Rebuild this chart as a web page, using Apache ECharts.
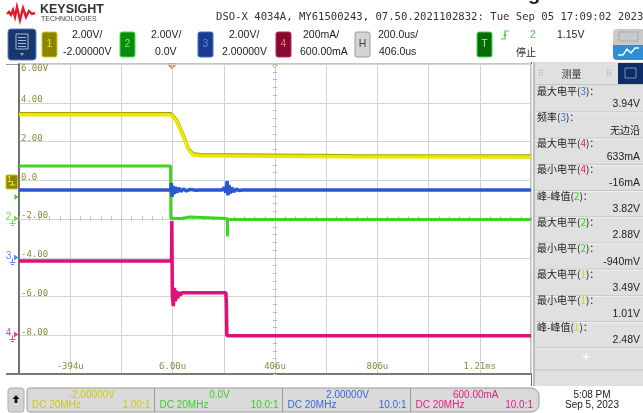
<!DOCTYPE html>
<html lang="zh">
<head>
<meta charset="UTF-8">
<title>DSO-X 4034A 截图</title>
<script src="https://cdn.jsdelivr.net/npm/echarts@6/dist/echarts.min.js"></script>
<style>
    html, body { margin: 0; padding: 0; background: #fff; }
    #scope { width: 643px; height: 413px; }
</style>
</head>
<body>
<div id="scope"></div>
<script>
    // ---------- 数据：时间 us，纵轴按通道1的屏幕电压 (V) ----------
    var timeTickDiv = [-4, -2, 0, 2, 4];
    var timeTickText = ['-394u', '6.00u', '406u', '806u', '1.21ms'];
    var voltTicks = [6, 4, 2, 0, -2, -4, -6, -8];
    var voltTickText = ['6.00V', '4.00', '2.00', '0.0', '-2.00', '-4.00', '-6.00', '-8.00'];

    // 通道1 黄
    var ch1 = [[-594, 3.38], [0, 3.38], [22, 3.04], [48, 2.26], [67, 1.58], [85, 1.32], [113, 1.27],
        [400, 1.24], [700, 1.21], [1406, 1.2]];
    // 通道2 绿
    var ch2 = [[-594, 0.74], [-2, 0.74], [-1, -1.98], [40, -1.98], [41, -1.9], [70, -1.9], [71, -1.98],
        [219, -1.98], [220, -2.9], [221, -2.03], [1406, -2.03]];
    // 通道3 蓝
    var ch3 = [[-594, -0.5], [-1, -0.5], [1, -0.15], [4, -0.85], [8, -0.3], [12, -0.7], [17, -0.35],
        [23, -0.64], [30, -0.4], [38, -0.58], [48, -0.45], [60, -0.55], [75, -0.47], [95, -0.52],
        [113, -0.5], [200, -0.5], [208, -0.38], [214, -0.64], [219, -0.05], [222, -0.78], [226, -0.25],
        [231, -0.68], [237, -0.38], [245, -0.6], [255, -0.46], [265, -0.53], [280, -0.5], [1406, -0.5]];
    // 通道4 粉 (电流)
    var ch4 = [[-594, -4.17], [2, -4.17], [3, -2.1], [5, -6.0], [9, -6.5], [13, -5.55], [17, -6.25],
        [21, -5.7], [26, -6.1], [31, -5.78], [36, -5.95], [42, -5.8], [214, -5.8], [216, -6.3],
        [218, -8.02], [1406, -8.02]];

    // 测量面板
    var measNames = ['最大电平', '频率', '最大电平', '最小电平', '峰-峰值', '最大电平', '最小电平', '最大电平', '最小电平', '峰-峰值'];
    var measChan = [3, 3, 4, 4, 2, 2, 2, 1, 1, 1];
    var measValues = ['3.94V', '无边沿', '633mA', '-16mA', '3.82V', '2.88V', '-940mV', '3.49V', '1.01V', '2.48V'];

    var chanColor = {1: '#e0d400', 2: '#44d024', 3: '#3a6ee0', 4: '#e0187e'};

    var scope = echarts.init(document.getElementById('scope'));

    function toDiv(t) { return (t - 406) / 200; }
    function pts(arr) { return arr.map(function (p) { return [toDiv(p[0]), p[1]]; }); }

    var F = '10.5px "Liberation Sans", Arial, sans-serif';
    var CJK = '10px "Noto Sans CJK SC", sans-serif';

    function txt(x, y, s, color, font, align) {
        return {
            type: 'text', x: x, y: y, silent: true,
            style: {text: s, fill: color || '#222', font: font || F,
                textAlign: align || 'left', textVerticalAlign: 'middle', align: align || 'left', verticalAlign: 'middle'}
        };
    }
    function box(x, y, w, h, fill, stroke, r) {
        return {type: 'rect', silent: true, shape: {x: x, y: y, width: w, height: h, r: r || 0},
            style: {fill: fill, stroke: stroke || null, lineWidth: 1}};
    }
    function line(x1, y1, x2, y2, color, w) {
        return {type: 'line', silent: true, shape: {x1: x1, y1: y1, x2: x2, y2: y2},
            style: {stroke: color, lineWidth: w || 1}};
    }
    function poly(points, fill, stroke) {
        return {type: 'polygon', silent: true, shape: {points: points},
            style: {fill: fill, stroke: stroke || null, lineWidth: 1}};
    }
    function pline(points, color, w) {
        return {type: 'polyline', silent: true, shape: {points: points},
            style: {stroke: color, lineWidth: w || 1, fill: null}};
    }
    function gnd(x, y, color) {
        return [line(x, y, x, y + 4, color, 1), line(x - 3, y + 4, x + 3, y + 4, color, 1), line(x - 1.5, y + 6, x + 1.5, y + 6, color, 1)];
    }

    var g = [];
    // 标志
    g.push(pline([[7, 14], [9, 12], [11, 15], [13, 10], [15, 17], [17, 7], [20, 20], [23, 8], [26, 17], [29, 11], [32, 14], [35, 13]], '#e01c2a', 2.4));
    g.push(txt(40, 10, 'KEYSIGHT', '#333', 'bold 12.5px "Liberation Sans", Arial, sans-serif'));
    g.push(txt(41, 19.5, 'TECHNOLOGIES', '#444', '7px "Liberation Sans", Arial, sans-serif'));
    g.push(txt(216, 17, 'DSO-X 4034A, MY61500243, 07.50.2021102832: Tue Sep 05 17:09:02 2023', '#333', '10.6px "DejaVu Sans Mono", monospace'));
    g.push(txt(534, -6, 'g', '#222', 'bold 20px "Liberation Sans", sans-serif', 'center'));

    // 菜单按钮
    g.push(box(8, 29, 28, 31, '#17386e', '#5b7fc0', 3));
    g.push(box(16, 34, 12, 15, null, '#a8b8d0'));
    for (var i = 0; i < 4; i++) g.push(line(18, 37.5 + i * 3, 26, 37.5 + i * 3, '#a8b8d0', 1));
    g.push(poly([[20, 53], [24, 53], [22, 56]], '#9aa8c0'));

    // 通道框
    g.push(box(42, 32, 15, 25, '#8c8400', '#d4cc10', 2), txt(49.5, 44.5, '1', '#e8e040', F, 'center'));
    g.push(txt(72, 35, '2.00V/'), txt(63, 52.5, '-2.00000V'));
    g.push(box(120, 32, 15, 25, '#0c8a0c', '#44e044', 2), txt(127.5, 44.5, '2', '#66f066', F, 'center'));
    g.push(txt(151, 35, '2.00V/'), txt(155, 52.5, '0.0V'));
    g.push(box(198, 32, 15, 25, '#1a3c8c', '#3a70e0', 2), txt(205.5, 44.5, '3', '#5a8af0', F, 'center'));
    g.push(txt(229, 35, '2.00V/'), txt(222, 52.5, '2.00000V'));
    g.push(box(276, 32, 15, 25, '#860a2c', '#d02060', 2), txt(283.5, 44.5, '4', '#f070a0', F, 'center'));
    g.push(txt(303, 35, '200mA/'), txt(300, 52.5, '600.00mA'));
    g.push(box(355, 32, 15, 25, '#d4d4d4', '#999', 2), txt(362.5, 44.5, 'H', '#444', F, 'center'));
    g.push(txt(378, 35, '200.0us/'), txt(379, 52.5, '406.0us'));
    g.push(box(477, 32, 15, 25, '#0a6a0a', '#44e044', 2), txt(484.5, 44.5, 'T', '#a0f0a0', F, 'center'));
    g.push(pline([[501, 39], [505, 39], [505, 31], [509, 31]], '#44d044', 1.2), poly([[503, 36], [507, 36], [505, 33]], '#44d044'));
    g.push(txt(530, 35, '2', '#44d044'), txt(557, 35, '1.15V'), txt(516, 52.5, '停止', '#222', CJK));

    // 右上角图标
    g.push(box(613, 29, 30, 16, '#cacaca', null, [4, 0, 0, 0]), box(613, 45, 30, 15, '#2e8fd6', null, [0, 0, 0, 4]));
    g.push({type: 'rect', silent: true, shape: {x: 619, y: 32, width: 19, height: 9},
        style: {fill: null, stroke: '#8a8a8a', lineWidth: 1, lineDash: [1, 1]}});
    g.push(pline([[618, 55], [623, 55], [627, 49], [631, 53], [635, 48], [639, 48]], '#fff', 1.4));

    // 屏幕边框延伸
    g.push(line(6, 64.5, 19, 64.5, '#9a9a9a', 1), line(6, 374, 19, 374, '#7a7a7a', 2));

    // 左侧通道标记
    g.push(box(6, 175, 11.5, 14, '#8c8400', '#d4cc10', 1), txt(9.5, 180, '1', '#f0e840', '9px "Liberation Sans", sans-serif', 'center'));
    g.push(poly([[17.5, 178], [19, 181], [17.5, 184]], '#d4cc10'));
    g.push(gnd(12.5, 181, '#f0e840')[0], gnd(12.5, 181, '#f0e840')[1]);
    g.push(poly([[14.5, 194], [18.5, 197], [14.5, 200]], '#44d024'));
    [[2, 218.5], [3, 257.5], [4, 334.5]].forEach(function (m) {
        var c = m[0] === 2 ? '#6ae050' : (m[0] === 3 ? '#5a8af0' : '#f0409a');
        g.push(txt(8.5, m[1] - 1, String(m[0]), c, '10px "Liberation Sans", sans-serif', 'center'));
        g.push(poly([[14, m[1] - 3], [18.5, m[1]], [14, m[1] + 3]], c));
        gnd(12.5, m[1] + 1, c).forEach(function (e) { g.push(e); });
    });

    // 触发标记
    g.push(poly([[167.5, 64], [176.5, 64], [172, 69]], '#f4a030', '#e08a20'));
    g.push(poly([[272, 64.5], [278, 64.5], [275, 68]], '#fff', '#f0a040'));

    // 测量面板
    g.push(box(533, 62, 110, 324, '#e0e0e0', null));
    g.push(line(531.5, 62, 531.5, 386, '#6a6a6a', 1), line(534, 62, 534, 386, '#9a9a9a', 1));
    g.push(txt(571.5, 74, '测量', '#333', CJK, 'center'));
    g.push(txt(538, 74, '⠿', '#aaa', '8px "DejaVu Sans", sans-serif'), txt(606, 74, '⠿', '#aaa', '8px "DejaVu Sans", sans-serif'));
    g.push(box(618, 63, 25, 21, '#0d2d6a', null), box(625, 68, 11, 10, null, '#7d8fb0'));
    g.push(line(535, 84.5, 643, 84.5, '#c4c4c4', 1));
    for (var k = 0; k < measNames.length; k++) {
        var yl = 91 + k * 26.2, yv = yl + 13.5;
        g.push({
            type: 'text', x: 537, y: yl, silent: true,
            style: {
                text: measNames[k] + '({c|' + measChan[k] + '})：',
                font: CJK, fill: '#222', textVerticalAlign: 'middle', verticalAlign: 'middle',
                rich: {c: {fill: chanColor[measChan[k]], color: chanColor[measChan[k]], font: CJK}}
            }
        });
        g.push(txt(640, yv, measValues[k], '#222', measValues[k] === '无边沿' ? CJK : F, 'right'));
        g.push(line(535, yv + 7.5, 643, yv + 7.5, '#c4c4c4', 1), line(535, yv + 8.5, 643, yv + 8.5, '#f2f2f2', 1));
    }
    g.push(txt(586, 358, '+', '#fff', 'bold 12px "Liberation Sans", sans-serif', 'center'));
    g.push(line(535, 370, 643, 370, '#c4c4c4', 1));

    // 底部通道栏
    g.push(box(8, 388, 16, 24, '#d4d4d4', '#aaa', 3));
    g.push(poly([[16, 395], [19.5, 399], [17.3, 399], [17.3, 403], [14.7, 403], [14.7, 399], [12.5, 399]], '#111'));
    g.push(box(27, 388, 512, 24, '#dadada', '#9a9a9a', [3, 8, 8, 3]));
    g.push(line(154.5, 388, 154.5, 412, '#9a9a9a'), line(282.5, 388, 282.5, 412, '#9a9a9a'), line(410.5, 388, 410.5, 412, '#9a9a9a'));
    var barOffset = ['-2.00000V', '0.0V', '2.00000V', '600.00mA'];
    var barProbe = ['1.00:1', '10.0:1', '10.0:1', '10.0:1'];
    var barCol = ['#d0c810', '#3ccc2c', '#3a68d8', '#e0208a'];
    var barLeft = [27, 154.5, 282.5, 410.5], barRight = [154.5, 282.5, 410.5, 539];
    for (var b = 0; b < 4; b++) {
        g.push(txt((barLeft[b] + barRight[b]) / 2 + 1, 395, barOffset[b], barCol[b], '10px "Liberation Sans", sans-serif', 'center'));
        g.push(txt(barLeft[b] + 5, 405.5, 'DC 20MHz', barCol[b], '10px "Liberation Sans", sans-serif'));
        g.push(txt(barRight[b] - (b === 3 ? 6 : 4), 405.5, barProbe[b], barCol[b], '10px "Liberation Sans", sans-serif', 'right'));
    }
    g.push(txt(592, 395, '5:08 PM', '#222', '10px "Liberation Sans", sans-serif', 'center'));
    g.push(txt(592, 405.5, 'Sep 5, 2023', '#222', '10px "Liberation Sans", sans-serif', 'center'));

    var labelColor = '#8c8a40';
    var mono = '"DejaVu Sans Mono", monospace';

    var option = {
        animation: false,
        backgroundColor: '#ffffff',
        grid: {left: 19, top: 64, width: 512, height: 310, show: true, borderColor: '#8a8a8a', borderWidth: 1},
        xAxis: [
            {
                type: 'value', min: -5, max: 5, interval: 1,
                axisLine: {onZero: false, lineStyle: {color: '#7a7a7a', width: 2}},
                axisTick: {show: false},
                splitLine: {show: true, lineStyle: {color: '#d2d2d2', width: 1}},
                axisLabel: {
                    inside: true, margin: 3, color: labelColor, fontFamily: mono, fontSize: 9,
                    formatter: function (v) {
                        var i = timeTickDiv.indexOf(Math.round(v));
                        return i < 0 ? '' : timeTickText[i];
                    }
                }
            },
            {
                type: 'value', min: -5, max: 5, interval: 1, position: 'bottom', offset: -155.5,
                axisLine: {onZero: false, show: false},
                axisTick: {show: true, inside: true, length: 2, lineStyle: {color: '#b8b8b8'}},
                minorTick: {show: true, splitNumber: 5, length: 2, lineStyle: {color: '#b8b8b8'}},
                axisLabel: {show: false}, splitLine: {show: false}
            },
            {
                type: 'value', min: -5, max: 5, interval: 1, position: 'bottom', offset: -155.5,
                axisLine: {onZero: false, show: false},
                axisTick: {show: true, inside: false, length: 2, lineStyle: {color: '#b8b8b8'}},
                minorTick: {show: true, splitNumber: 5, length: 2, lineStyle: {color: '#b8b8b8'}},
                axisLabel: {show: false}, splitLine: {show: false}
            }
        ],
        yAxis: [
            {
                type: 'value', min: -10, max: 6, interval: 2,
                axisLine: {show: true, onZero: false, lineStyle: {color: '#555', width: 1.5}},
                axisTick: {show: false},
                splitLine: {show: true, lineStyle: {color: '#d2d2d2', width: 1}},
                axisLabel: {
                    inside: true, margin: 2, verticalAlign: 'middle',
                    formatter: function (v) {
                        var i = voltTicks.indexOf(Math.round(v));
                        if (i < 0) return '';
                        return (i === 0 ? '{t|' : '{n|') + voltTickText[i] + '}';
                    },
                    rich: {
                        n: {color: labelColor, fontFamily: mono, fontSize: 9, padding: [0, 0, 6, 0]},
                        t: {color: labelColor, fontFamily: mono, fontSize: 9, padding: [10, 0, 0, 0]}
                    }
                }
            },
            {
                type: 'value', min: -10, max: 6, interval: 2, position: 'left', offset: -256,
                axisLine: {onZero: false, show: false},
                axisTick: {show: true, inside: true, length: 2, lineStyle: {color: '#b8b8b8'}},
                minorTick: {show: true, splitNumber: 5, length: 2, lineStyle: {color: '#b8b8b8'}},
                axisLabel: {show: false}, splitLine: {show: false}
            },
            {
                type: 'value', min: -10, max: 6, interval: 2, position: 'left', offset: -256,
                axisLine: {onZero: false, show: false},
                axisTick: {show: true, inside: false, length: 2, lineStyle: {color: '#b8b8b8'}},
                minorTick: {show: true, splitNumber: 5, length: 2, lineStyle: {color: '#b8b8b8'}},
                axisLabel: {show: false}, splitLine: {show: false}
            }
        ],
        series: [
            {name: 'ch1', type: 'line', data: pts(ch1), showSymbol: false,
                lineStyle: {color: '#ece600', width: 3.5, shadowColor: '#a8a200', shadowOffsetY: -1}, z: 3},
            {name: 'ch2', type: 'line', data: pts(ch2), showSymbol: false, lineStyle: {color: '#40d420', width: 3}, z: 4},
            {name: 'ch3', type: 'line', data: pts(ch3), showSymbol: false, lineStyle: {color: '#2a58d0', width: 3.5}, z: 5},
            {name: 'ch4', type: 'line', data: pts(ch4), showSymbol: false, lineStyle: {color: '#de107a', width: 3.5}, z: 6}
        ],
        graphic: {elements: g}
    };

    scope.setOption(option);
</script>
</body>
</html>
